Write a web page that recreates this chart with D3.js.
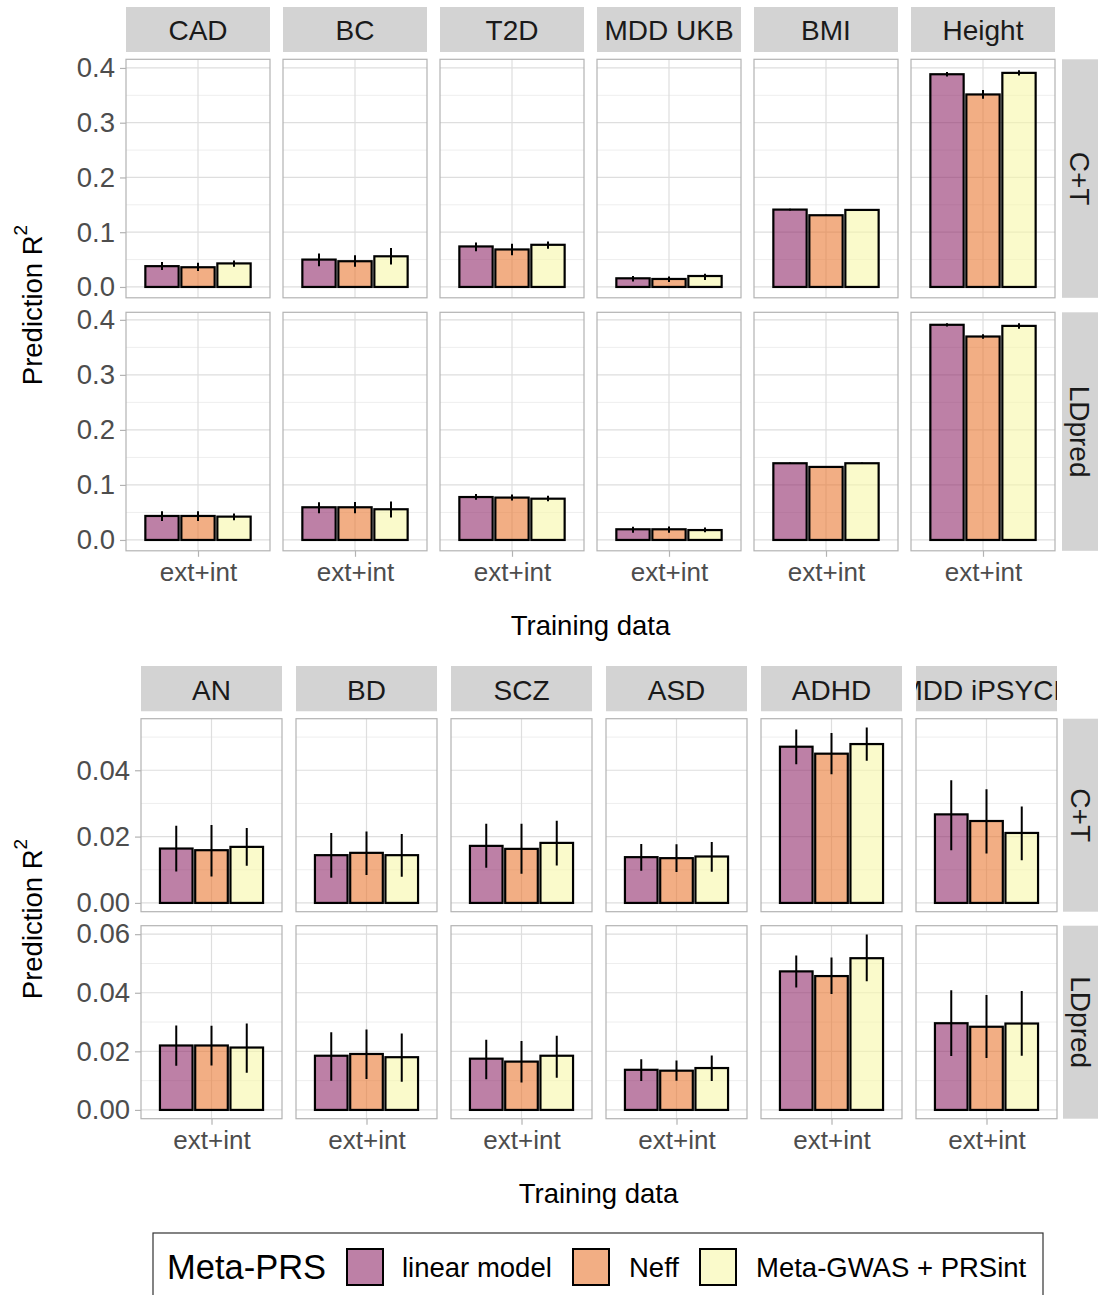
<!DOCTYPE html>
<html><head><meta charset="utf-8">
<script src="https://cdn.jsdelivr.net/npm/d3@7"></script>
<style>
body{margin:0;background:#fff}
svg{display:block}
text{font-family:"Liberation Sans",Arial,Helvetica,sans-serif}
</style>
</head><body>
<svg id="chart" width="1098" height="1295"></svg>
<script>
// ---------------- DATA ----------------
const methods = ["linear model", "Neff", "Meta-GWAS + PRSint"];
const methodColors = ["#912B6B", "#E97832", "#F7F7A8"];
const rowLabels = ["C+T", "LDpred"];
const xCategory = "ext+int";
const legendTitle = "Meta-PRS";
const xTitle = "Training data";

const topTraits = ["CAD", "BC", "T2D", "MDD UKB", "BMI", "Height"];
// each entry: [linear model, Neff, Meta-GWAS + PRSint]
const topCTValue = [[0.038,0.036,0.043],[0.050,0.047,0.056],[0.074,0.0685,0.077],[0.0158,0.0146,0.020],[0.1413,0.131,0.1407],[0.3885,0.3516,0.391]];
const topCTLower = [[0.031,0.029,0.037],[0.038,0.037,0.041],[0.065,0.058,0.070],[0.010,0.009,0.0127],[0.1398,0.1297,0.1392],[0.3845,0.3436,0.386]];
const topCTUpper = [[0.0455,0.044,0.0485],[0.061,0.058,0.071],[0.081,0.079,0.083],[0.020,0.019,0.024],[0.1428,0.1323,0.1422],[0.3925,0.3596,0.396]];
const topLDValue = [[0.0436,0.0436,0.0424],[0.0594,0.0594,0.0558],[0.078,0.077,0.075],[0.0194,0.0194,0.018],[0.1394,0.1327,0.1394],[0.391,0.3697,0.389]];
const topLDLower = [[0.0345,0.0345,0.036],[0.0485,0.0485,0.041],[0.073,0.0715,0.0705],[0.013,0.013,0.014],[0.138,0.1315,0.138],[0.388,0.3657,0.384]];
const topLDUpper = [[0.052,0.052,0.048],[0.0685,0.069,0.070],[0.0836,0.0827,0.0805],[0.024,0.0245,0.0225],[0.1408,0.1339,0.1408],[0.394,0.3737,0.394]];
const topTicks = [0, 0.1, 0.2, 0.3, 0.4];
const topMinorTicks = [0.05, 0.15, 0.25, 0.35];

const bottomTraits = ["AN", "BD", "SCZ", "ASD", "ADHD", "MDD iPSYCH"];
const botCTValue = [[0.0164,0.0159,0.0169],[0.0144,0.0151,0.0144],[0.0172,0.0163,0.0181],[0.0138,0.0135,0.0140],[0.0471,0.0450,0.0479],[0.0267,0.0247,0.0211]];
const botCTLower = [[0.0095,0.0080,0.0112],[0.0076,0.0084,0.0079],[0.0106,0.0088,0.0113],[0.0097,0.0093,0.0094],[0.0418,0.0388,0.0429],[0.0159,0.0149,0.0129]];
const botCTUpper = [[0.0233,0.0235,0.0226],[0.0211,0.0215,0.0208],[0.0239,0.0239,0.0248],[0.0178,0.0177,0.0184],[0.0523,0.0512,0.0529],[0.0370,0.0343,0.0291]];
const botLDValue = [[0.0220,0.0220,0.0213],[0.0185,0.0191,0.0180],[0.0175,0.0165,0.0185],[0.0137,0.0134,0.0143],[0.0473,0.0457,0.0518],[0.0296,0.0284,0.0295]];
const botLDLower = [[0.0151,0.0152,0.0127],[0.0100,0.0106,0.0096],[0.0105,0.0094,0.0110],[0.0099,0.0100,0.0099],[0.0418,0.0396,0.0439],[0.0184,0.0177,0.0185]];
const botLDUpper = [[0.0288,0.0287,0.0295],[0.0265,0.0275,0.0261],[0.0240,0.0235,0.0253],[0.0173,0.0169,0.0186],[0.0527,0.0520,0.0599],[0.0409,0.0392,0.0406]];
const botCTTicks = [0, 0.02, 0.04];
const botCTMinorTicks = [0.01, 0.03, 0.05];
const botLDTicks = [0, 0.02, 0.04, 0.06];
const botLDMinorTicks = [0.01, 0.03, 0.05];

// ---------------- DRAW ----------------
const svg = d3.select("#chart");
const defs = svg.append("defs");
let clipId = 0;

const STRIP_FILL = "#D3D3D3";
const BORDER = "#B3B3B3";
const GRID_MAJOR = "#DEDEDE";
const GRID_MINOR = "#EEEEEE";
const AXIS_TEXT = "#4D4D4D";
const FILL_OPACITY = 0.6;

function drawSection(o) {
  const g = svg.append("g");
  o.traits.forEach((trait, ti) => {
    const px = o.px0 + ti * o.pstep;
    // top strip
    const cid = "clip" + (clipId++);
    defs.append("clipPath").attr("id", cid)
      .append("rect").attr("x", px).attr("y", o.stripY).attr("width", o.pw).attr("height", o.stripH);
    const sg = g.append("g").attr("clip-path", `url(#${cid})`);
    sg.append("rect").attr("x", px).attr("y", o.stripY).attr("width", o.pw).attr("height", o.stripH).attr("fill", STRIP_FILL);
    sg.append("text").attr("x", px + o.pw / 2).attr("y", o.stripY + o.stripH / 2 + 1)
      .attr("dy", "0.35em").attr("text-anchor", "middle").attr("font-size", 28).attr("fill", "#1A1A1A").text(trait);

    // x scale: one discrete category, ggplot expansion 0.6 each side
    const unit = o.pw / 1.2;
    const cx = px + o.pw / 2;
    const xBand = d3.scaleBand().domain(methods)
      .range([cx - 0.45 * unit, cx + 0.45 * unit]).paddingInner(0.075).paddingOuter(0.0375);

    o.rows.forEach((row, ri) => {
      const py = o.rowY[ri];
      const maxV = d3.max(row.upper.flat());
      const y = d3.scaleLinear().domain([-0.05 * maxV, 1.05 * maxV]).range([py + o.rowH, py]);
      const pg = g.append("g");
      const pcid = "clip" + (clipId++);
      defs.append("clipPath").attr("id", pcid)
        .append("rect").attr("x", px).attr("y", py).attr("width", o.pw).attr("height", o.rowH);
      const inner = pg.append("g").attr("clip-path", `url(#${pcid})`);
      // grid
      inner.selectAll(".minor").data(row.minor).join("line")
        .attr("x1", px).attr("x2", px + o.pw).attr("y1", d => y(d)).attr("y2", d => y(d))
        .attr("stroke", GRID_MINOR).attr("stroke-width", 1);
      inner.selectAll(".major").data(row.ticks).join("line")
        .attr("x1", px).attr("x2", px + o.pw).attr("y1", d => y(d)).attr("y2", d => y(d))
        .attr("stroke", GRID_MAJOR).attr("stroke-width", 1.2);
      inner.append("line").attr("x1", cx).attr("x2", cx).attr("y1", py).attr("y2", py + o.rowH)
        .attr("stroke", GRID_MAJOR).attr("stroke-width", 1.2);
      // bars
      methods.forEach((m, mi) => {
        const v = row.value[ti][mi];
        inner.append("rect")
          .attr("x", xBand(m)).attr("width", xBand.bandwidth())
          .attr("y", y(v)).attr("height", y(0) - y(v))
          .attr("fill", methodColors[mi]).attr("fill-opacity", FILL_OPACITY)
          .attr("stroke", "#000").attr("stroke-width", 2.2);
      });
      // error bars
      methods.forEach((m, mi) => {
        inner.append("line")
          .attr("x1", xBand(m) + xBand.bandwidth() / 2).attr("x2", xBand(m) + xBand.bandwidth() / 2)
          .attr("y1", y(row.lower[ti][mi])).attr("y2", y(row.upper[ti][mi]))
          .attr("stroke", "#000").attr("stroke-width", 2);
      });
      // border
      pg.append("rect").attr("x", px).attr("y", py).attr("width", o.pw).attr("height", o.rowH)
        .attr("fill", "none").attr("stroke", BORDER).attr("stroke-width", 1.2);

      // y axis (first column only)
      if (ti === 0) {
        const ax = g.append("g").attr("transform", `translate(${px},0)`)
          .call(d3.axisLeft(y).tickValues(row.ticks).tickFormat(d3.format(row.fmt)).tickSize(6).tickPadding(5));
        ax.select(".domain").remove();
        ax.selectAll(".tick line").attr("stroke", BORDER).attr("stroke-width", 1.2);
        ax.selectAll(".tick text").attr("font-size", 27.5).attr("fill", AXIS_TEXT)
          .attr("font-family", '"Liberation Sans",Arial,sans-serif');
      }
      // right strip (last column only)
      if (ti === o.traits.length - 1) {
        g.append("rect").attr("x", o.stripRX).attr("y", py).attr("width", 40).attr("height", o.rowH).attr("fill", STRIP_FILL);
        const tx = o.stripRX + 18, tyy = py + o.rowH / 2;
        g.append("text").attr("transform", `translate(${tx},${tyy}) rotate(90)`)
          .attr("text-anchor", "middle").attr("dy", "0.35em").attr("font-size", 28).attr("fill", "#1A1A1A")
          .text(rowLabels[ri]);
      }
      // x axis on bottom row
      if (ri === o.rows.length - 1) {
        const xs = d3.scalePoint().domain([xCategory]).range([cx, cx]);
        const ax = g.append("g").attr("transform", `translate(0,${py + o.rowH})`)
          .call(d3.axisBottom(xs).tickSize(6).tickPadding(6));
        ax.select(".domain").remove();
        ax.selectAll(".tick line").attr("stroke", BORDER).attr("stroke-width", 1.2);
        ax.selectAll(".tick text").attr("font-size", 26).attr("fill", AXIS_TEXT)
          .attr("font-family", '"Liberation Sans",Arial,sans-serif');
      }
    });
  });
  // axis titles
  g.append("text").attr("x", o.xTitleX).attr("y", o.xTitleY).attr("dy", "0.35em")
    .attr("text-anchor", "middle").attr("font-size", 27.5).attr("fill", "#000").text(xTitle);
  const yt = g.append("text").attr("transform", `translate(${o.yTitleX},${o.yTitleY}) rotate(-90)`)
    .attr("text-anchor", "middle").attr("dy", "0.35em").attr("font-size", 27.5).attr("fill", "#000");
  yt.append("tspan").text("Prediction R");
  yt.append("tspan").attr("font-size", 19).attr("dy", "-0.75em").text("2");
}

drawSection({
  traits: topTraits,
  rows: [
    {value: topCTValue, lower: topCTLower, upper: topCTUpper, ticks: topTicks, minor: topMinorTicks, fmt: ".1f"},
    {value: topLDValue, lower: topLDLower, upper: topLDUpper, ticks: topTicks, minor: topMinorTicks, fmt: ".1f"}
  ],
  px0: 126, pstep: 157, pw: 144,
  rowY: [59.3, 312.3], rowH: 238.5,
  stripY: 7, stripH: 45, stripRX: 1062,
  xTitleX: 590.5, xTitleY: 625,
  yTitleX: 32, yTitleY: 305
});

drawSection({
  traits: bottomTraits,
  rows: [
    {value: botCTValue, lower: botCTLower, upper: botCTUpper, ticks: botCTTicks, minor: botCTMinorTicks, fmt: ".2f"},
    {value: botLDValue, lower: botLDLower, upper: botLDUpper, ticks: botLDTicks, minor: botLDMinorTicks, fmt: ".2f"}
  ],
  px0: 141, pstep: 155, pw: 141,
  rowY: [718.7, 925.7], rowH: 193,
  stripY: 666, stripH: 45.5, stripRX: 1063,
  xTitleX: 598.5, xTitleY: 1193,
  yTitleX: 32, yTitleY: 919
});

// ---------------- LEGEND ----------------
const lg = svg.append("g");
lg.append("rect").attr("x", 153).attr("y", 1233).attr("width", 890).attr("height", 90)
  .attr("fill", "#fff").attr("stroke", "#333").attr("stroke-width", 1.2);
lg.append("text").attr("x", 167).attr("y", 1267).attr("dy", "0.35em").attr("font-size", 34.5).attr("fill", "#000").text(legendTitle);
const keyX = [347, 573, 700];
const labelX = [402, 629, 756];
methods.forEach((m, i) => {
  lg.append("rect").attr("x", keyX[i]).attr("y", 1249).attr("width", 36).attr("height", 36)
    .attr("fill", methodColors[i]).attr("fill-opacity", FILL_OPACITY).attr("stroke", "#000").attr("stroke-width", 2);
  lg.append("text").attr("x", labelX[i]).attr("y", 1267).attr("dy", "0.35em").attr("font-size", 27.5).attr("fill", "#000").text(m);
});
</script>
</body></html>
